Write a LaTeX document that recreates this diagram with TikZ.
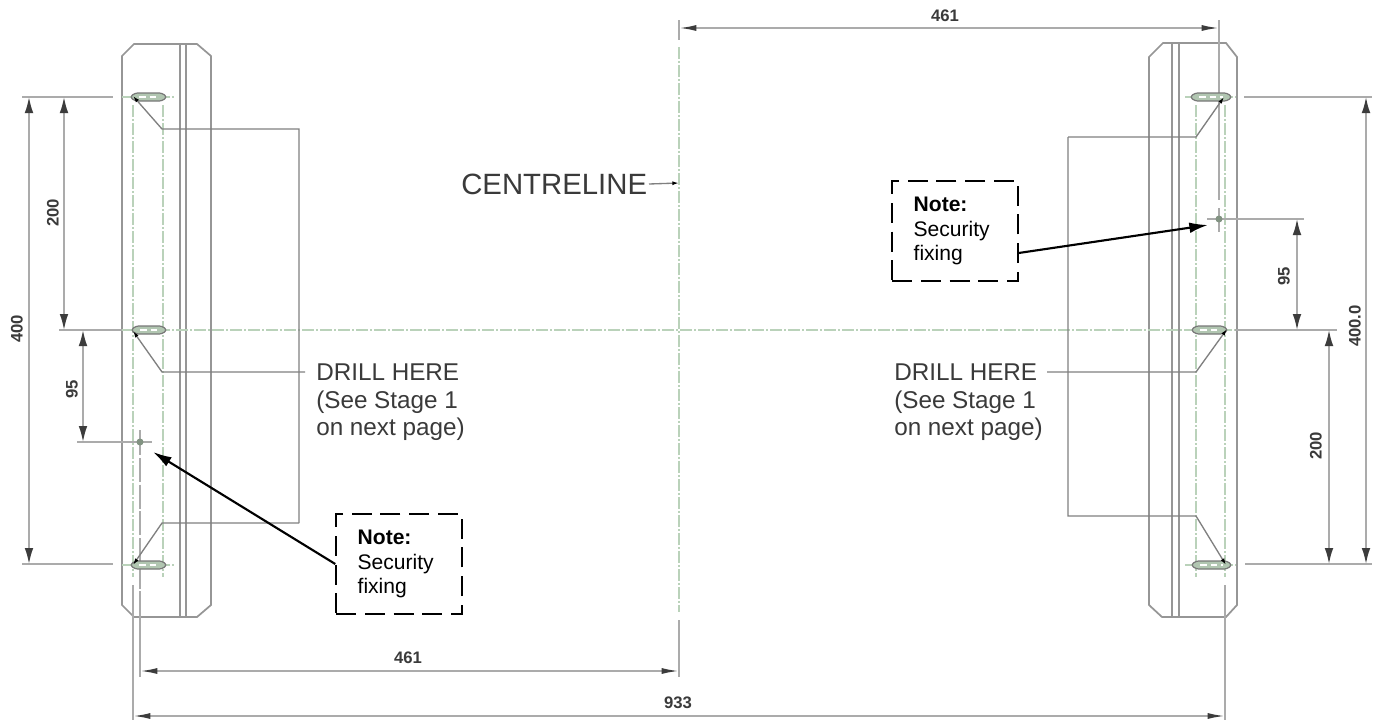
\documentclass[tikz,border=0pt]{standalone}
\usepackage{fontspec}
\setmainfont{Liberation Sans}
\usetikzlibrary{arrows.meta}
\definecolor{lineg}{HTML}{ABABAB}
\definecolor{edgeg}{HTML}{969696}
\definecolor{tipg}{HTML}{3C3C3C}
\definecolor{cgreen}{HTML}{BAD2BA}
\definecolor{txtg}{HTML}{3A3A3A}
\tikzset{
  panel/.style={draw=edgeg,line width=1.3pt},
  ext/.style={draw=lineg,line width=1pt},
  leader/.style={draw=edgeg!85!black,line width=1pt},
  vdim/.style={draw=lineg,line width=1.3pt,{Latex[length=12pt,width=6.5pt,color=tipg]}-{Latex[length=12pt,width=6.5pt,color=tipg]}},
  hdim/.style={draw=lineg,line width=1.3pt,{Latex[length=13pt,width=4.5pt,color=tipg]}-{Latex[length=13pt,width=4.5pt,color=tipg]}},
  ptr/.style={leader,-{Latex[length=5pt,width=3pt,color=black]}},
  cl/.style={draw=cgreen,line width=1pt,dash pattern=on 9pt off 1.5pt on 1.5pt off 1.5pt},
  slotb/.style={draw=edgeg!80!black,line width=0.9pt,fill=cgreen!85!gray,rounded corners=2pt},
  dimtxt/.style={font=\bfseries\fontsize{12.5}{14}\selectfont,text=txtg,inner sep=0pt},
  drilltxt/.style={font=\fontsize{18.2}{21}\selectfont,text=txtg,inner sep=0pt,align=left,anchor=north west},
  notebox/.style={draw=black,line width=1.6pt,dash pattern=on 15pt off 6.5pt,minimum width=94pt,minimum height=75pt,
     inner sep=0pt,text width=62pt,align=left,font=\fontsize{15.8}{18.4}\selectfont,text=black},
  notearrow/.style={draw=black,line width=1.6pt,-{Latex[length=14pt,width=8pt]}},
}
\newcommand{\slotat}[3]{% x1,x2,y
  \path[slotb] (#1,#3) -- (#1+5,#3-4) -- (#2-5,#3-4) -- (#2,#3) -- (#2-5,#3+4) -- (#1+5,#3+4) -- cycle;
  \draw[white,line width=1pt,dash pattern=on 5pt off 3pt] (#1+9,#3) -- (#2-9,#3);
}
\newcommand{\fixat}[2]{%
  \fill[cgreen!70!black] (#1,#2) circle[radius=3.5];
}
\begin{document}
\begin{tikzpicture}[x=0.75pt,y=-0.75pt]
\useasboundingbox[fill=white] (0,0) rectangle (1379,721);

% left panel
\draw[panel] (134,44) -- (197,44) -- (211,56) -- (211,605) -- (197,617) -- (134,617) -- (122,605) -- (122,56) -- cycle;
\draw[panel] (180,44) -- (180,617);
\draw[panel] (186,44) -- (186,617);
% right panel
\draw[panel] (1163,43) -- (1226,43) -- (1237,57) -- (1237,605) -- (1226,617) -- (1162,617) -- (1149,605) -- (1149,57) -- cycle;
\draw[panel] (1172,43) -- (1172,617);
\draw[panel] (1179,43) -- (1179,617);

% centre lines
\draw[cl] (133,105) -- (133,577);
\draw[cl] (163,105) -- (163,577);
\draw[cl] (1196,105) -- (1196,577);
\draw[cl] (1225,105) -- (1225,577);
\draw[cl] (122,330) -- (1237,330);
\draw[cl] (679,47) -- (679,612);
\draw[cl] (122,97) -- (175,97);
\draw[cl] (122,565) -- (175,565);
\draw[cl] (1185,97) -- (1236,97);
\draw[cl] (1185,565) -- (1236,565);

% extension lines
\draw[ext] (22,97) -- (113,97);
\draw[ext] (22,564) -- (113,564);
\draw[ext] (59,330) -- (122,330);
\draw[ext] (77,442) -- (152,442);
\draw[ext] (140,430) -- (140,455);
\draw[ext,dash pattern=on 18pt off 2pt] (140,458) -- (140,610);
\draw[ext] (140,610) -- (140,677);
\draw[ext] (133,585) -- (133,720);
\draw[ext] (679,20) -- (679,40);
\draw[ext] (679,620) -- (679,677);
\draw[ext] (1219,20) -- (1219,200);
\draw[ext] (1207,219) -- (1304,219);
\draw[ext] (1219,208) -- (1219,232);
\draw[ext] (1244,97) -- (1372,97);
\draw[ext] (1235,330) -- (1337,330);
\draw[ext] (1245,564) -- (1372,564);
\draw[ext] (1225,585) -- (1225,720);

% slots and fixings
\slotat{130}{167}{97}
\slotat{131}{167}{330}
\slotat{130}{167}{565}
\slotat{1190}{1232}{97}
\slotat{1191}{1228}{330}
\slotat{1191}{1232}{565}
\fixat{140}{442}
\fixat{1219}{219}

% dimensions
\draw[vdim] (29,97) -- (29,564);
\draw[vdim] (64,97) -- (64,330);
\draw[vdim] (83,330) -- (83,442);
\draw[vdim] (1366,97) -- (1366,564);
\draw[vdim] (1297,219) -- (1297,330);
\draw[vdim] (1329,330) -- (1329,564);
\draw[hdim] (140,671) -- (679,671);
\draw[hdim] (133,716) -- (1225,716);
\draw[hdim] (679,28) -- (1219,28);
\node[dimtxt,rotate=90] (d400) at (17,329) {400};
\node[dimtxt,rotate=90] (d200a) at (53,213) {200};
\node[dimtxt,rotate=90] (d95a) at (72,389) {95};
\node[dimtxt,rotate=90] (d4000) at (1355,326) {400.0};
\node[dimtxt,rotate=90] (d95b) at (1284,276) {95};
\node[dimtxt,rotate=90] (d200b) at (1316,446) {200};
\node[dimtxt] (d461a) at (408,658) {461};
\node[dimtxt] (d461b) at (945,16) {461};
\node[dimtxt] (d933) at (678,703) {933};

% centreline label
\node[inner sep=0pt,anchor=west,font=\fontsize{22}{26}\selectfont,text=txtg] (clabel) at (461,184) {CENTRELINE};
\coordinate (clpt) at (679,183);
\draw[ptr] (clabel.east -| 649,0) -- (clpt);

% drill labels
\node[drilltxt] (drillL) at (316,364) {DRILL HERE\\[-0.5pt](See Stage 1\\[-0.5pt]on next page)};
\node[drilltxt] (drillR) at (894,364) {DRILL HERE\\[-0.5pt](See Stage 1\\[-0.5pt]on next page)};

% leaders
\coordinate (lt) at (133,96);
\coordinate (lm) at (133,331);
\coordinate (lb) at (133,565);
\coordinate (rt) at (1224,97);
\coordinate (rm) at (1227,329);
\coordinate (rb) at (1226,565);
\draw[ptr] (299,523) -- (162,523) -- (lb);
\draw[ptr] (299,523) -- (299,129) -- (162,129) -- (lt);
\draw[ptr] (305,372) -- (162,372) -- (lm);
\draw[ptr] (1068,137) -- (1196,137) -- (rt);
\draw[ptr] (1068,137) -- (1068,516) -- (1196,516) -- (rb);
\draw[ptr] (1047,372) -- (1196,372) -- (rm);

% notes
\node[notebox] (noteL) at (399,564) {\textbf{Note:}\\Security\\fixing};
\node[notebox] (noteR) at (955,231) {\textbf{Note:}\\Security\\fixing};
\coordinate (fixL) at (153,452);
\coordinate (fixR) at (1208,225);
\draw[notearrow] (noteL.west) -- (fixL);
\draw[notearrow] (noteR.east |- 0,253) -- (fixR);
\end{tikzpicture}
\end{document}
